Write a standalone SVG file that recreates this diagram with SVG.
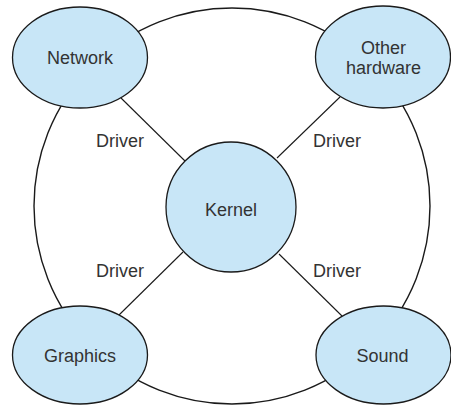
<svg xmlns="http://www.w3.org/2000/svg" width="451" height="405" viewBox="0 0 451 405">
<style>
.node{fill:#c8e6f7;stroke:#1a1a1a;stroke-width:1.3}
.ring{fill:none;stroke:#1a1a1a;stroke-width:1.4}
.edge{stroke:#1a1a1a;stroke-width:1.1;fill:none}
text{font-family:"Liberation Sans",Arial,sans-serif;font-size:18px;fill:#333;text-anchor:middle}
</style>
<rect width="451" height="405" fill="#fff"/>
<circle class="ring" cx="232" cy="206" r="198"/>
<g id="connectors">
<line class="edge" x1="121" y1="98" x2="185" y2="161"/>
<line class="edge" x1="340" y1="97" x2="277" y2="158"/>
<line class="edge" x1="183" y1="252" x2="119" y2="315"/>
<line class="edge" x1="279" y1="254" x2="342" y2="316"/>
<text x="120" y="147">Driver</text>
<text x="337" y="147">Driver</text>
<text x="120" y="277">Driver</text>
<text x="337" y="277">Driver</text>
</g>
<g id="kernel">
<circle class="node" cx="231" cy="207" r="65"/>
<text x="231" y="216">Kernel</text>
</g>
<g id="network">
<ellipse class="node" cx="80" cy="57.5" rx="67.5" ry="50.5"/>
<text x="80" y="64">Network</text>
</g>
<g id="other-hardware">
<ellipse class="node" cx="383" cy="57" rx="67.5" ry="51"/>
<text x="383.5" y="54">Other</text>
<text x="383.5" y="73.5">hardware</text>
</g>
<g id="graphics">
<ellipse class="node" cx="80" cy="355" rx="67.5" ry="49"/>
<text x="80" y="362">Graphics</text>
</g>
<g id="sound">
<ellipse class="node" cx="383.5" cy="355" rx="67.5" ry="49"/>
<text x="382.5" y="362">Sound</text>
</g>
</svg>
